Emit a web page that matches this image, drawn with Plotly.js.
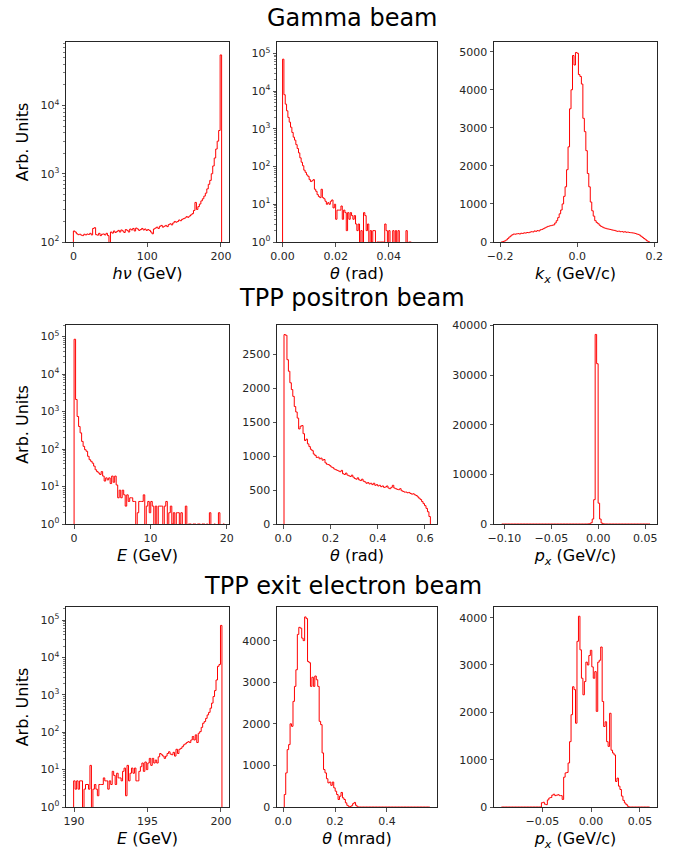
<!DOCTYPE html>
<html>
<head>
<meta charset="utf-8">
<script src="https://cdn.plot.ly/plotly-3.0.1.min.js"></script>
<style>html,body{margin:0;padding:0;background:#fff;}#chart{width:673px;height:852px;}</style>
</head>
<body>
<div id="chart"></div>
<script>
// ---------------- DATA ----------------
const rowTitles = ["Gamma beam", "TPP positron beam", "TPP exit electron beam"];

// Gamma beam: photon energy (GeV)
const gammaEnergyStart = 0, gammaEnergyWidth = 2.01;
const gammaEnergyCounts = [
 145,140,132,128,130,126,124,130,127,131,
 129,134,127,158,162,128,126,134,124,130,
 131,127,134,124,98,140,135,145,138,142,
 148,140,150,145,138,152,148,140,155,150,
 158,145,160,155,148,152,158,150,155,148,
 152,148,140,132,155,160,165,158,170,175,
 165,170,175,168,180,185,178,190,200,195,
 200,210,205,215,220,225,235,230,240,250,
 260,290,380,300,330,360,400,430,470,520,
 600,700,800,1000,1300,1700,2300,3000,4300,55000];

// Gamma beam: theta (rad)
const gammaThetaStart = 0, gammaThetaWidth = 0.0005;
const gammaThetaCounts = [
 70000,8000,4500,3000,2000,1500,1100,800,600,500,
 380,300,230,170,130,105,80,70,60,55,
 45,40,42,45,25,22,18,16,15,25,
 15,14,12,10,11,10,12,13,8,10,
 4,7,7,7,9,4,7,6,2,6,
 4,6,5,4,5,3,2,3,0,2,
 0,6,5,2,3,0,2,1,2,2,
 0,1,1,1,1,1,1,3,2,0,
 2,0,0,2,0,2,0,2,0,0,
 0,0,0,2,0,1,1,0,0,0];

// Gamma beam: k_x (GeV/c)
const gammaKxStart = -0.1965, gammaKxWidth = 0.00384;
const gammaKxCounts = [
 5,15,30,55,90,130,160,190,210,205,
 215,220,210,230,225,240,235,250,245,260,
 270,265,290,280,300,290,320,330,350,370,
 390,410,420,430,440,450,500,560,640,740,
 840,1000,1200,1450,1900,2500,3500,4000,4900,4650,
 4980,4960,4400,4350,4150,3250,2900,2400,1800,1450,
 1050,820,680,560,510,480,440,410,390,370,
 360,345,340,330,320,310,305,290,280,285,
 270,275,260,270,255,260,250,245,240,235,
 225,210,200,180,150,120,90,60,30,8];

// TPP positron beam: energy (GeV)
const positronEnergyStart = 0, positronEnergyWidth = 0.197;
const positronEnergyCounts = [
 85000,2100,740,400,270,160,118,96,87,64,
 52,47,42,35,28,25,23,21,25,19,
 14,17,15,17,12,19,13,19,11,5,
 8,5,8,6,3,6,4,5,5,4,
 4,0,2,4,4,4,6,0,3,4,
 2,4,3,0,3,0,3,3,3,0,
 3,4,0,2,3,1,2,0,2,2,
 1,2,0,0,3,0,1,1,0,1,
 1,0,1,1,0,1,1,0,1,0,
 2,0,0,1,0,0,2,0,0,1];

// TPP positron beam: theta (rad)
const positronThetaStart = 0.003, positronThetaWidth = 0.0062;
const positronThetaCounts = [
 2790,2780,2420,2250,2080,1980,1880,1730,1650,1560,
 1400,1440,1450,1330,1230,1250,1180,1140,1100,1080,
 1030,1010,980,985,960,970,940,950,900,880,
 875,860,840,830,810,800,790,780,770,790,
 740,730,750,720,710,700,720,690,670,660,
 680,650,640,660,630,620,600,610,590,600,
 580,600,570,580,560,570,550,560,540,545,
 560,530,520,540,570,530,520,510,505,520,
 490,480,470,470,460,465,450,440,445,430,
 420,400,380,360,330,300,270,230,180,110];

// TPP positron beam: p_x (GeV/c)
const positronPxStart = -0.1028, positronPxWidth = 0.00158;
const positronPxCounts = [
 0,0,0,0,0,0,0,0,0,0,
 0,0,0,0,0,0,0,0,0,0,
 0,0,0,0,0,0,0,0,0,0,
 0,0,0,0,0,0,0,0,0,0,
 0,0,0,0,0,0,0,0,0,0,
 0,0,0,0,0,0,2,5,20,60,
 250,1000,4900,38200,32300,4200,1000,200,40,10,
 3,0,0,0,0,0,0,0,0,0,
 0,0,0,0,0,0,0,0,0,0,
 0,0,0,0,0,0,0,0,0,0];

// TPP exit electron beam: energy (GeV)
const electronEnergyStart = 189.97, electronEnergyWidth = 0.101;
const electronEnergyCounts = [
 5,3,5,3,5,5,0,3,4,4,
 3,13,0,3,4,3,2,4,4,4,
 6,5,5,3,5,4,9,7,4,8,
 6,6,5,9,11,2,13,5,8,11,
 8,11,5,5,9,12,15,9,16,10,
 15,20,13,20,15,18,15,22,27,25,
 23,20,23,27,30,26,25,29,23,35,
 27,35,37,41,46,49,53,56,53,62,
 77,62,85,53,94,104,135,174,193,235,
 290,340,440,600,900,1300,2500,5800,6500,72000];

// TPP exit electron beam: theta (mrad)
const electronThetaStart = 0.004, electronThetaWidth = 0.00561;
const electronThetaCounts = [
 300,820,1380,1500,2000,1940,2540,2900,3300,4150,
 4320,4300,4060,4000,4570,4530,3500,3470,2900,3120,
 2900,3150,3060,2900,2060,1980,1300,900,820,680,
 580,600,520,600,460,380,300,180,260,350,
 220,180,100,40,15,10,30,80,110,40,
 5,0,0,0,0,0,0,0,0,0,
 0,0,0,0,0,0,0,0,0,0,
 0,0,0,0,0,0,0,0,0,0,
 0,0,0,0,0,0,0,0,0,0,
 0,0,0,0,0,0,0,0,0,0];

// TPP exit electron beam: p_x (GeV/c)
const electronPxStart = -0.0919, electronPxWidth = 0.001518;
const electronPxCounts = [
 0,0,0,0,0,0,0,0,0,0,
 0,0,0,0,0,0,0,0,0,0,
 0,0,0,0,0,0,0,90,100,60,
 50,150,190,200,250,270,240,250,260,240,
 240,160,630,720,730,930,1380,1950,2540,2480,
 1770,3500,4030,3320,2720,2370,2650,3060,3000,3200,
 3310,2960,2720,2860,2020,3060,3100,3380,2230,1700,
 1800,1380,1280,1980,1200,1140,1100,540,610,440,
 370,230,140,85,50,15,0,0,0,0,
 0,0,0,0,0,0,0,0,0,0];

// Axis labels and ticks
const xLabels = [
 "<i>hν</i> (GeV)", "<i>θ</i> (rad)", "<i>k</i><sub><i>x</i></sub> (GeV/c)",
 "<i>E</i> (GeV)", "<i>θ</i> (rad)", "<i>p</i><sub><i>x</i></sub> (GeV/c)",
 "<i>E</i> (GeV)", "<i>θ</i> (mrad)", "<i>p</i><sub><i>x</i></sub> (GeV/c)"];
const yLabel = "Arb. Units";
const xTickVals = [
 [0,100,200], [0,0.02,0.04], [-0.2,0,0.2],
 [0,10,20], [0,0.2,0.4,0.6], [-0.1,-0.05,0,0.05],
 [190,195,200], [0,0.2,0.4], [-0.05,0,0.05]];
const xTickText = [
 ["0","100","200"], ["0.00","0.02","0.04"], ["\u22120.2","0.0","0.2"],
 ["0","10","20"], ["0.0","0.2","0.4","0.6"], ["\u22120.10","\u22120.05","0.00","0.05"],
 ["190","195","200"], ["0.0","0.2","0.4"], ["\u22120.05","0.00","0.05"]];
const linearYTicks = {
 2: [0,1000,2000,3000,4000,5000],
 4: [0,500,1000,1500,2000,2500],
 5: [0,10000,20000,30000,40000],
 7: [0,1000,2000,3000,4000],
 8: [0,1000,2000,3000,4000]};

// ---------------- PRESENTATION ----------------
const hists = [
 [gammaEnergyCounts, gammaEnergyStart, gammaEnergyWidth],
 [gammaThetaCounts, gammaThetaStart, gammaThetaWidth],
 [gammaKxCounts, gammaKxStart, gammaKxWidth],
 [positronEnergyCounts, positronEnergyStart, positronEnergyWidth],
 [positronThetaCounts, positronThetaStart, positronThetaWidth],
 [positronPxCounts, positronPxStart, positronPxWidth],
 [electronEnergyCounts, electronEnergyStart, electronEnergyWidth],
 [electronThetaCounts, electronThetaStart, electronThetaWidth],
 [electronPxCounts, electronPxStart, electronPxWidth]];
const isLog = [true,true,false,true,false,false,true,false,false];
const xRanges = [[-10,211],[-0.0021,0.0582],[-0.2157,0.2069],[-1.06,20.3],[-0.0267,0.651],[-0.111,0.0626],[189.45,200.55],[-0.024,0.593],[-0.0995,0.0675]];
const yRanges = [[2,4.93],[0,5.3],[0,5255],[0,5.31],[0,2931],[0,40100],[0,5.35],[0,4809],[0,4225]];

const W = 673, H = 852;
const colPx = [[66,229],[277,437],[494,657]];
const rowPx = [[42,242],[325,524],[607,807]];

const FONT = "DejaVu Sans, Verdana, sans-serif";
const traces = [];
const layout = {
  width: W, height: H, margin: {l:0,r:0,t:0,b:0},
  paper_bgcolor: "#fff", plot_bgcolor: "#fff", showlegend: false,
  font: {family: FONT, color: "#000"},
  annotations: []
};

function supTick(e){ return "10<sup>" + e + "</sup>"; }

hists.forEach((h, k) => {
  const [counts, start, width] = h;
  const log = isLog[k];
  const base = log ? 1e-3 : 0;
  const xs = [start], ys = [base];
  for (let i = 0; i < counts.length; i++) {
    xs.push(start + i*width);
    ys.push(counts[i] > 0 ? counts[i] : base);
  }
  xs.push(start + counts.length*width); ys.push(counts[counts.length-1] > 0 ? counts[counts.length-1] : base);
  xs.push(start + counts.length*width); ys.push(base);
  const n = k === 0 ? "" : String(k+1);
  traces.push({
    type: "scatter", mode: "lines", x: xs, y: ys,
    xaxis: "x"+n, yaxis: "y"+n,
    line: {color: "#ff0000", width: 1, shape: "hv"},
    hoverinfo: "skip"
  });
  const r = Math.floor(k/3), c = k%3;
  const common = {
    showline: true, mirror: true, linecolor: "#262626", linewidth: 1,
    ticks: "outside", ticklen: 3.5, tickwidth: 0.8, tickcolor: "#262626",
    showgrid: false, zeroline: false,
    tickfont: {family: FONT, size: 11, color: "#262626"}
  };
  const xa = Object.assign({}, common, {
    domain: [colPx[c][0]/W, colPx[c][1]/W],
    anchor: "y"+n, range: xRanges[k],
    tickmode: "array", tickvals: xTickVals[k], ticktext: xTickText[k],
    title: {text: xLabels[k], font: {family: FONT, size: 16, color: "#000"}, standoff: 6}
  });
  const ya = Object.assign({}, common, {
    domain: [1 - rowPx[r][1]/H, 1 - rowPx[r][0]/H],
    anchor: "x"+n
  });
  if (log) {
    ya.type = "log";
    ya.range = yRanges[k];
    const lo = Math.floor(yRanges[k][0]), hi = Math.ceil(yRanges[k][1]);
    const tv = [], tt = [], mv = [];
    for (let e = lo; e <= hi; e++) {
      tv.push(Math.pow(10,e)); tt.push(supTick(e));
      for (let d = 2; d <= 9; d++) mv.push(d*Math.pow(10,e));
    }
    ya.tickmode = "array"; ya.tickvals = tv; ya.ticktext = tt;
    ya.minor = {ticks: "outside", ticklen: 2, tickwidth: 0.6, tickcolor: "#262626", tickmode: "array", tickvals: mv};
  } else {
    ya.type = "linear";
    ya.range = yRanges[k];
    ya.tickmode = "array"; ya.tickvals = linearYTicks[k];
    ya.ticktext = linearYTicks[k].map(String);
  }
  if (c === 0) {
    ya.title = {text: yLabel, font: {family: FONT, size: 16, color: "#000"}, standoff: 7};
  }
  layout["xaxis"+n] = xa;
  layout["yaxis"+n] = ya;
});

const titleX = [351.7, 351.7, 342.5];
const titleY = [18.4, 298.4, 586];
rowTitles.forEach((t, r) => {
  layout.annotations.push({
    text: t, xref: "paper", yref: "paper",
    x: titleX[r]/W, y: 1 - titleY[r]/H, xanchor: "center", yanchor: "middle",
    showarrow: false, font: {family: FONT, size: 24, color: "#000"}
  });
});

Plotly.newPlot("chart", traces, layout, {staticPlot: true, displayModeBar: false});
</script>
</body>
</html>
